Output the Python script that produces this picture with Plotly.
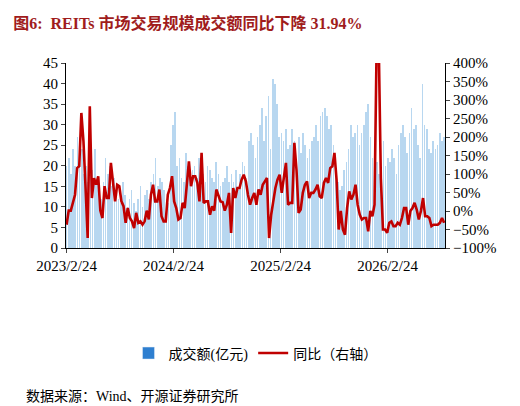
import plotly.graph_objects as go
import pandas as pd

yoy = [-37,1,1,26,44,116,121,265,188,62,-73,283,35,89,71,94,1,-19,67,35,35,130,67,26,71,67,26,13,-32,8,-19,-28,-46,-5,-32,-28,-37,-28,1,-23,44,71,26,26,58,-14,-28,-28,44,62,94,26,8,-23,-19,22,8,80,134,67,94,94,76,26,157,22,26,26,-10,13,1,58,44,26,24,1,17,49,-59,62,35,62,62,85,98,80,44,17,35,49,17,58,44,71,80,89,-73,-10,26,62,85,98,49,89,130,17,22,22,184,112,-5,4,49,71,80,35,49,49,58,71,40,35,76,89,76,116,121,157,85,-50,0,-50,-64,8,53,31,44,71,17,-10,-23,-19,-19,-55,0,-14,17,450,450,89,-50,-50,-59,-32,-28,-41,-41,-32,-37,-19,8,8,-37,0,8,22,4,-23,0,35,-14,-14,-19,-41,-37,-37,-37,-32,-19,-32]

amount = [20,22,18,24,20,27,22,24,18,20,16,22,19,24,16,14,12,16,22,18,20,15,17,14,12,11,16,13,10,12,14,11,9,12,15,10,13,14,12,16,18,22,15,17,16,14,12,11,25,30,33,20,22,17,16,23,20,18,19,20,17,22,15,18,16,20,19,17,16,21,18,15,16,17,20,16,18,16,19,14,18,21,20,17,26,28,25,22,27,30,34,26,32,37,24,41,40,35,27,28,26,29,24,25,29,26,20,27,23,28,25,22,24,26,27,30,26,32,33,34,32,29,30,25,22,16,14,15,19,21,24,30,27,28,30,25,28,30,33,35,27,22,20,21,18,17,26,20,22,21,24,22,18,25,28,30,27,23,28,34,29,30,25,22,40,30,29,24,23,26,24,25,28,26,27]

tick_vals = ["2023-02-24", "2024-02-24", "2025-02-24", "2026-02-24"]
tick_text = ["2023/2/24", "2024/2/24", "2025/2/24", "2026/2/24"]

start, end = pd.Timestamp("2023-02-24"), pd.Timestamp("2026-09-05")
d_line = pd.date_range(start, end, periods=len(yoy))
d_bar = pd.date_range(start, end, periods=len(amount))

fig = go.Figure()
fig.add_trace(go.Bar(x=d_bar, y=amount, name="成交额(亿元)", marker=dict(color="#b8d7f0", line=dict(width=0)),
                     width=2.2*86400000, showlegend=False))
fig.add_trace(go.Bar(x=[None], y=[None], name="成交额(亿元)", marker_color="#2e7fd0"))
fig.add_trace(go.Scatter(x=d_line, y=yoy, name="同比（右轴）", yaxis="y2", mode="lines",
                         line=dict(color="#c00000", width=2.6)))

serif = "Liberation Serif, Noto Sans CJK SC"
fig.update_layout(
    width=520, height=406, paper_bgcolor="white", plot_bgcolor="white",
    margin=dict(l=58, r=83, t=55, b=166, autoexpand=False),
    font=dict(family=serif, size=15, color="black"),
    bargap=0,
    title=dict(text="<b>图6:  REITs 市场交易规模成交额同比下降 31.94%</b>", x=0.01, xanchor="left",
               y=0.975, yanchor="top", font=dict(size=16, color="#a01c1c", family=serif)),
    xaxis=dict(range=[start - pd.Timedelta(days=2), end + pd.Timedelta(days=3)], tickvals=tick_vals, ticktext=tick_text,
               showline=True, linecolor="black", linewidth=1.2, ticks="outside", ticklen=4, showgrid=False),
    yaxis=dict(range=[0, 45], dtick=5, showline=True, linecolor="black", ticks="outside", ticklen=4, showgrid=False, zeroline=False),
    yaxis2=dict(range=[-100, 400], dtick=50, overlaying="y", side="right", ticksuffix="%", showline=True,
                linecolor="black", ticks="outside", ticklen=4, showgrid=False, zeroline=False),
    legend=dict(orientation="h", x=0.5, xanchor="center", y=-0.57, yanchor="middle", font=dict(size=14, family=serif)),
    annotations=[dict(text="数据来源：Wind、开源证券研究所", x=-0.11, y=-0.8, xref="paper", yref="paper",
                      yanchor="middle", xanchor="left", showarrow=False, font=dict(size=14, family=serif))]
)
fig.write_html("out.html")
